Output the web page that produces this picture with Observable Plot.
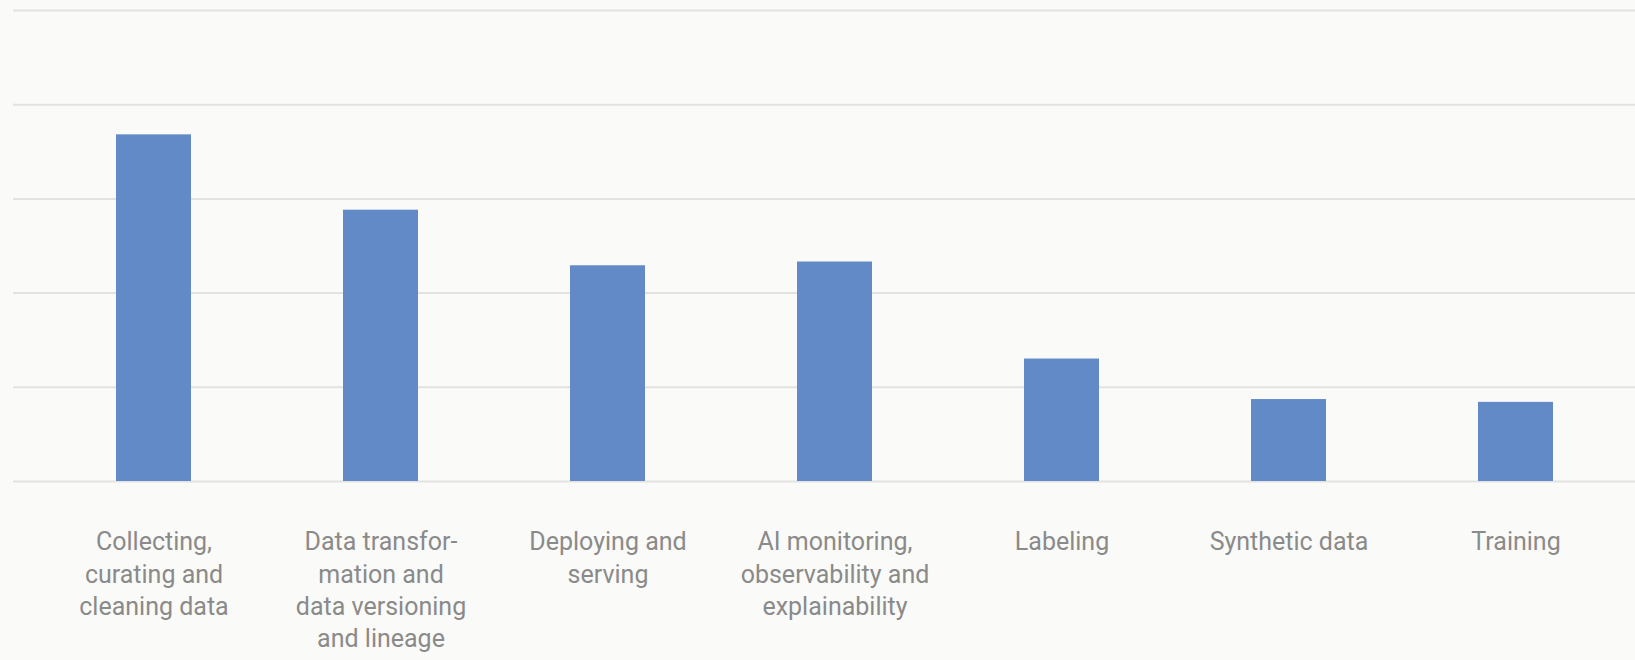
<!DOCTYPE html>
<html>
<head>
<meta charset="utf-8">
<script src="https://cdn.jsdelivr.net/npm/d3@7"></script>
<script src="https://cdn.jsdelivr.net/npm/@observablehq/plot@0.6"></script>
<style>
  html, body { margin: 0; padding: 0; background: #fafaf8; }
  #chart svg { display: block; background: #fafaf8; }
</style>
</head>
<body>
<div id="chart"></div>
<script>
const categories = [
  "Collecting,\ncurating and\ncleaning data",
  "Data transfor-\nmation and\ndata versioning\nand lineage",
  "Deploying and\nserving",
  "AI monitoring,\nobservability and\nexplainability",
  "Labeling",
  "Synthetic data",
  "Training"
];
const values = [36.8, 28.8, 22.9, 23.3, 13.0, 8.7, 8.4];
const gridTicks = [0, 10, 20, 30, 40, 50];

const data = categories.map((c, i) => ({category: c, value: values[i]}));

const chart = Plot.plot({
  width: 1635,
  height: 660,
  marginTop: 10,
  marginBottom: 179,
  marginLeft: 13,
  marginRight: 0,
  style: {background: "#fafaf8", fontFamily: "Roboto, 'Open Sans', sans-serif"},
  x: {domain: categories, paddingInner: 0.67, paddingOuter: 0.4, align: 0.555, label: null},
  y: {domain: [0, 50], axis: null},
  marks: [
    Plot.ruleY(gridTicks, {stroke: "#e2e2e0", strokeWidth: 2}),
    Plot.barY(data, {x: "category", y: "value", fill: "#628ac7"}),
    Plot.axisX({
      tickSize: 0,
      tickPadding: 46,
      fontSize: 25,
      lineHeight: 1.29,
      fill: "#8a8a8a",
      label: null
    })
  ]
});
document.getElementById("chart").appendChild(chart);
</script>
</body>
</html>
